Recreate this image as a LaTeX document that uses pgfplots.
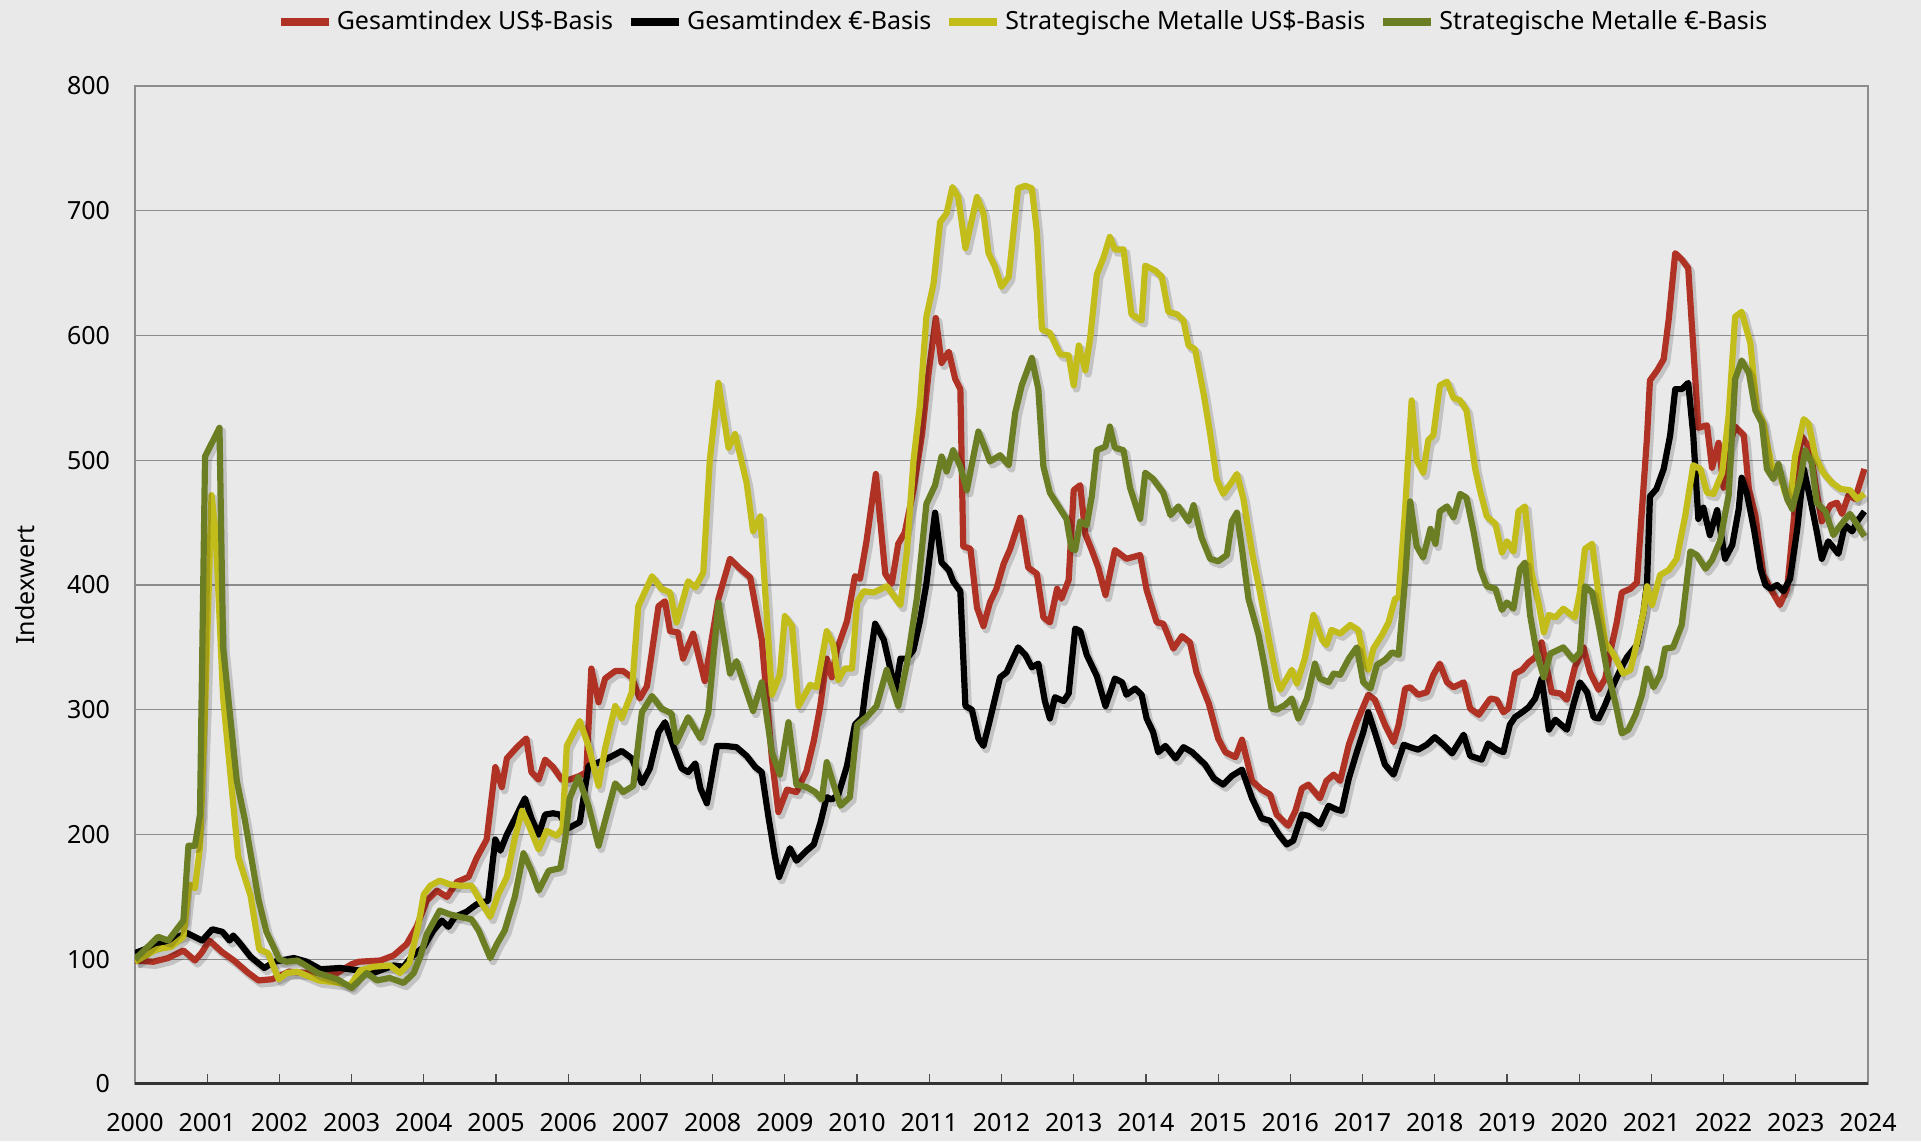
\documentclass[border=0pt]{standalone}
\usepackage{pgfplots}
\pgfplotsset{compat=1.18}
\usepackage{fontspec}
\setmainfont{Noto Sans}
\definecolor{bg}{HTML}{E9E9E9}
\definecolor{cRed}{HTML}{B03224}
\definecolor{cYel}{HTML}{C3BD1B}
\definecolor{cGrn}{HTML}{6C7E23}
\definecolor{gridc}{HTML}{8C8C8C}
\tikzset{shadow/.style={preaction={draw=black, draw opacity=0.16, line width=3.8pt, transform canvas={xshift=1.4pt,yshift=-1.7pt}}}}
\begin{document}
\begin{tikzpicture}
\fill[bg] (-67.5pt,-28.5pt) rectangle (893pt,542pt);
\begin{axis}[
  at={(0pt,0pt)}, anchor=south west,
  width=866.5pt, height=499pt, scale only axis,
  xmin=2000, xmax=2024, ymin=0, ymax=800,
  xtick={2000,2001,...,2024},
  ytick={0,100,...,800},
  /pgf/number format/.cd, 1000 sep={}, assume math mode=true, /pgfplots/.cd,
  tick label style={font=\fontsize{12.5}{15}\selectfont},
  xticklabel style={yshift=-11pt},
  yticklabel style={xshift=-9pt},
  ymajorgrids, major grid style={gridc, line width=0.7pt},
  axis line style={gridc, line width=0.8pt},
  tick align=inside, xtick pos=lower,
  major tick length=5pt,
  x tick style={black!70, line width=0.6pt},
  ytick style={draw=none},
  ylabel={Indexwert},
  ylabel style={font=\fontsize{12.5}{15}\selectfont, at={(axis description cs:-0.0635,0.5)}, anchor=center},
  legend style={draw=none, fill=none, at={(axis description cs:0.513,1)}, anchor=center, yshift=32pt,
    legend columns=4, font=\fontsize{12.5}{15}\selectfont, inner sep=0pt,
    /tikz/every even column/.append style={column sep=5pt}, cells={anchor=west}},
  legend image code/.code={\draw[#1] (0pt,0pt) -- (24pt,0pt);},
]
\addlegendimage{cRed, line width=4pt}\addlegendentry{Gesamtindex US\$-Basis}
\addlegendimage{black, line width=4pt}\addlegendentry{Gesamtindex €-Basis}
\addlegendimage{cYel, line width=4pt}\addlegendentry{Strategische Metalle US\$-Basis}
\addlegendimage{cGrn, line width=4pt}\addlegendentry{Strategische Metalle €-Basis}

% Gesamtindex US$-Basis
\addplot[cRed, line width=3.1pt, line join=round, forget plot, shadow] coordinates {
(2000.0,99) (2000.25,98) (2000.46,101) (2000.67,107) (2000.83,99) (2000.92,105) (2001.03,115) (2001.2,106) (2001.37,99) (2001.57,89) (2001.71,83) (2001.9,84) (2002.13,90) (2002.4,89) (2002.8,89) (2003.0,96) (2003.1,98) (2003.4,99) (2003.58,103) (2003.76,112) (2003.9,126) (2004.04,147) (2004.18,155) (2004.32,150) (2004.46,162) (2004.62,166) (2004.73,181) (2004.87,196) (2004.99,254) (2005.08,238) (2005.15,261) (2005.29,270) (2005.42,277) (2005.49,250) (2005.59,244) (2005.68,260) (2005.79,254) (2005.91,244) (2006.02,244) (2006.16,247) (2006.25,250) (2006.32,333) (2006.42,306) (2006.51,325) (2006.65,331) (2006.76,331) (2006.88,326) (2006.99,309) (2007.09,319) (2007.25,383) (2007.34,387) (2007.41,363) (2007.52,362) (2007.59,341) (2007.73,361) (2007.89,323) (2008.08,389) (2008.24,421) (2008.38,413) (2008.52,406) (2008.68,356) (2008.82,261) (2008.91,218) (2009.03,236) (2009.16,234) (2009.3,251) (2009.4,275) (2009.49,303) (2009.58,341) (2009.65,326) (2009.72,348) (2009.86,371) (2009.97,407) (2010.04,405) (2010.13,435) (2010.26,489) (2010.39,409) (2010.48,401) (2010.57,433) (2010.66,442) (2010.78,476) (2010.9,521) (2010.99,570) (2011.09,614) (2011.17,578) (2011.27,587) (2011.36,565) (2011.43,557) (2011.47,431) (2011.57,429) (2011.66,382) (2011.75,367) (2011.84,386) (2011.93,397) (2012.03,417) (2012.12,429) (2012.26,454) (2012.37,414) (2012.49,409) (2012.58,374) (2012.67,370) (2012.77,397) (2012.83,389) (2012.93,404) (2013.0,476) (2013.09,480) (2013.16,441) (2013.25,428) (2013.34,414) (2013.44,392) (2013.57,428) (2013.73,421) (2013.92,424) (2014.01,396) (2014.15,370) (2014.24,369) (2014.38,349) (2014.5,359) (2014.61,354) (2014.7,330) (2014.87,305) (2015.0,277) (2015.1,266) (2015.24,262) (2015.33,276) (2015.47,243) (2015.6,236) (2015.72,232) (2015.81,216) (2015.97,207) (2016.07,219) (2016.16,237) (2016.25,240) (2016.41,229) (2016.5,243) (2016.6,248) (2016.69,243) (2016.81,272) (2016.92,290) (2017.08,312) (2017.17,308) (2017.31,288) (2017.43,274) (2017.5,288) (2017.59,317) (2017.66,318) (2017.77,312) (2017.89,314) (2017.98,328) (2018.07,337) (2018.17,322) (2018.26,318) (2018.4,322) (2018.49,301) (2018.61,296) (2018.77,309) (2018.86,308) (2018.95,298) (2019.02,301) (2019.11,329) (2019.21,332) (2019.3,338) (2019.39,342) (2019.48,354) (2019.62,314) (2019.74,313) (2019.83,308) (2019.94,334) (2020.06,350) (2020.15,330) (2020.27,316) (2020.36,325) (2020.43,346) (2020.52,370) (2020.59,394) (2020.71,397) (2020.8,402) (2020.87,461) (2020.94,519) (2020.98,564) (2021.08,572) (2021.17,581) (2021.24,613) (2021.33,666) (2021.42,661) (2021.51,654) (2021.58,591) (2021.65,526) (2021.77,528) (2021.84,494) (2021.93,514) (2022.0,478) (2022.07,510) (2022.16,527) (2022.28,520) (2022.35,477) (2022.44,456) (2022.55,408) (2022.67,395) (2022.78,384) (2022.88,397) (2022.97,451) (2023.07,520) (2023.2,509) (2023.29,474) (2023.36,451) (2023.48,464) (2023.57,466) (2023.64,457) (2023.73,472) (2023.82,469) (2023.95,493)
};
% Gesamtindex EUR-Basis
\addplot[black, line width=3.1pt, line join=round, forget plot, shadow] coordinates {
(2000.0,105) (2000.32,112) (2000.72,121) (2000.93,115) (2001.07,124) (2001.21,122) (2001.31,115) (2001.36,119) (2001.45,113) (2001.6,102) (2001.79,93) (2001.93,98) (2002.2,101) (2002.38,98) (2002.57,92) (2002.84,93) (2003.1,91) (2003.3,89) (2003.58,95) (2003.72,94) (2003.83,102) (2004.0,110) (2004.13,123) (2004.25,131) (2004.34,126) (2004.43,134) (2004.59,138) (2004.73,144) (2004.89,147) (2004.99,196) (2005.06,187) (2005.15,200) (2005.29,216) (2005.4,229) (2005.49,213) (2005.59,200) (2005.68,216) (2005.79,217) (2005.88,216) (2006.0,205) (2006.16,210) (2006.28,255) (2006.39,257) (2006.58,262) (2006.74,267) (2006.88,261) (2007.02,241) (2007.13,253) (2007.25,282) (2007.34,290) (2007.46,270) (2007.57,253) (2007.66,250) (2007.76,257) (2007.83,237) (2007.92,225) (2008.06,271) (2008.17,271) (2008.33,270) (2008.47,263) (2008.59,254) (2008.68,250) (2008.77,215) (2008.86,183) (2008.92,166) (2009.07,189) (2009.16,179) (2009.3,187) (2009.4,192) (2009.49,209) (2009.58,230) (2009.65,228) (2009.74,232) (2009.86,255) (2009.97,288) (2010.07,294) (2010.13,322) (2010.25,369) (2010.37,356) (2010.46,333) (2010.53,315) (2010.6,341) (2010.69,341) (2010.78,348) (2010.87,371) (2010.96,401) (2011.08,458) (2011.17,418) (2011.27,412) (2011.33,403) (2011.43,395) (2011.5,303) (2011.59,300) (2011.68,277) (2011.75,271) (2011.84,292) (2011.98,326) (2012.07,330) (2012.23,350) (2012.33,344) (2012.42,334) (2012.51,337) (2012.6,307) (2012.67,293) (2012.74,310) (2012.86,307) (2012.93,313) (2013.02,365) (2013.09,363) (2013.18,344) (2013.32,327) (2013.44,303) (2013.57,325) (2013.67,322) (2013.73,312) (2013.85,317) (2013.94,312) (2014.01,293) (2014.1,282) (2014.17,266) (2014.27,271) (2014.41,261) (2014.52,270) (2014.64,266) (2014.82,256) (2014.94,245) (2015.07,240) (2015.19,247) (2015.33,252) (2015.47,229) (2015.6,213) (2015.72,211) (2015.84,200) (2015.95,192) (2016.04,195) (2016.16,216) (2016.25,215) (2016.41,208) (2016.53,223) (2016.64,220) (2016.71,219) (2016.81,245) (2016.92,266) (2017.01,282) (2017.08,298) (2017.17,282) (2017.31,256) (2017.43,248) (2017.57,272) (2017.66,270) (2017.77,268) (2017.89,272) (2018.0,278) (2018.12,272) (2018.24,265) (2018.4,280) (2018.49,263) (2018.65,260) (2018.74,273) (2018.86,268) (2018.95,266) (2019.04,288) (2019.11,294) (2019.21,298) (2019.3,302) (2019.39,309) (2019.48,325) (2019.58,284) (2019.67,292) (2019.83,284) (2019.92,304) (2020.01,322) (2020.11,314) (2020.2,294) (2020.27,293) (2020.36,304) (2020.45,317) (2020.57,332) (2020.66,342) (2020.8,352) (2020.89,378) (2020.94,402) (2020.98,471) (2021.07,477) (2021.17,493) (2021.26,520) (2021.33,557) (2021.42,557) (2021.51,562) (2021.58,520) (2021.65,453) (2021.72,462) (2021.81,440) (2021.91,460) (2022.02,421) (2022.12,432) (2022.21,461) (2022.25,486) (2022.32,474) (2022.42,445) (2022.51,413) (2022.58,400) (2022.65,397) (2022.74,400) (2022.83,395) (2022.92,405) (2023.02,445) (2023.11,493) (2023.2,469) (2023.29,443) (2023.36,421) (2023.45,435) (2023.59,425) (2023.68,448) (2023.78,443) (2023.85,451) (2023.95,459)
};
% Strategische Metalle US$-Basis
\addplot[cYel, line width=3.1pt, line join=round, forget plot, shadow] coordinates {
(2000.0,98) (2000.3,108) (2000.5,110) (2000.67,118) (2000.75,160) (2000.83,157) (2000.9,190) (2000.97,300) (2001.06,472) (2001.12,440) (2001.22,310) (2001.43,182) (2001.6,151) (2001.72,108) (2001.84,105) (2001.99,84) (2002.1,89) (2002.25,90) (2002.55,83) (2002.84,81) (2002.98,79) (2003.12,91) (2003.3,94) (2003.53,95) (2003.67,89) (2003.8,97) (2003.92,126) (2004.0,152) (2004.09,159) (2004.22,163) (2004.36,160) (2004.5,159) (2004.66,159) (2004.78,147) (2004.92,134) (2005.03,152) (2005.15,166) (2005.26,197) (2005.36,219) (2005.45,208) (2005.59,188) (2005.7,203) (2005.84,199) (2005.92,205) (2005.98,271) (2006.06,280) (2006.16,291) (2006.28,271) (2006.42,239) (2006.51,269) (2006.65,303) (2006.74,293) (2006.88,314) (2006.97,383) (2007.16,407) (2007.29,397) (2007.41,394) (2007.5,370) (2007.66,403) (2007.76,398) (2007.87,410) (2007.96,500) (2008.08,562) (2008.22,510) (2008.31,521) (2008.47,482) (2008.56,443) (2008.66,455) (2008.82,312) (2008.93,328) (2009.0,375) (2009.1,367) (2009.19,303) (2009.35,320) (2009.44,318) (2009.58,363) (2009.67,352) (2009.74,324) (2009.83,333) (2009.93,333) (2010.0,386) (2010.09,395) (2010.23,394) (2010.41,399) (2010.5,392) (2010.6,384) (2010.69,427) (2010.78,499) (2010.87,544) (2010.96,615) (2011.06,642) (2011.15,691) (2011.24,698) (2011.32,719) (2011.4,711) (2011.5,670) (2011.66,711) (2011.75,698) (2011.82,666) (2011.91,655) (2012.0,639) (2012.1,647) (2012.23,718) (2012.33,720) (2012.42,718) (2012.49,683) (2012.56,605) (2012.67,602) (2012.81,585) (2012.93,584) (2013.0,560) (2013.07,592) (2013.16,572) (2013.23,599) (2013.32,649) (2013.41,662) (2013.5,679) (2013.57,669) (2013.69,669) (2013.8,617) (2013.94,612) (2013.99,656) (2014.13,652) (2014.22,647) (2014.31,619) (2014.43,617) (2014.52,612) (2014.59,592) (2014.68,589) (2014.8,553) (2014.89,521) (2014.98,485) (2015.07,473) (2015.17,481) (2015.26,489) (2015.35,469) (2015.47,426) (2015.58,394) (2015.7,357) (2015.81,325) (2015.86,316) (2016.02,332) (2016.09,321) (2016.2,341) (2016.32,376) (2016.44,356) (2016.5,352) (2016.57,364) (2016.69,361) (2016.83,368) (2016.94,364) (2017.04,336) (2017.08,332) (2017.15,349) (2017.27,360) (2017.36,370) (2017.45,389) (2017.5,390) (2017.59,461) (2017.68,548) (2017.75,500) (2017.84,490) (2017.91,516) (2017.98,520) (2018.07,560) (2018.17,563) (2018.26,550) (2018.35,548) (2018.44,540) (2018.56,493) (2018.63,475) (2018.72,455) (2018.84,449) (2018.93,426) (2019.0,435) (2019.09,427) (2019.16,459) (2019.25,463) (2019.34,410) (2019.44,385) (2019.51,362) (2019.58,376) (2019.67,374) (2019.78,381) (2019.94,374) (2020.01,394) (2020.08,429) (2020.18,433) (2020.27,391) (2020.36,354) (2020.48,344) (2020.61,329) (2020.71,332) (2020.8,354) (2020.89,378) (2020.94,399) (2021.01,384) (2021.12,408) (2021.24,412) (2021.35,421) (2021.47,456) (2021.58,496) (2021.68,493) (2021.77,474) (2021.86,473) (2021.98,490) (2022.07,536) (2022.16,615) (2022.25,619) (2022.37,594) (2022.46,541) (2022.55,530) (2022.6,514) (2022.69,490) (2022.76,493) (2022.85,474) (2022.92,466) (2022.99,503) (2023.11,533) (2023.18,529) (2023.27,503) (2023.38,490) (2023.5,482) (2023.62,477) (2023.75,476) (2023.85,469) (2023.95,473)
};
% Strategische Metalle EUR-Basis
\addplot[cGrn, line width=3.1pt, line join=round, forget plot, shadow] coordinates {
(2000.0,100) (2000.32,118) (2000.46,115) (2000.67,131) (2000.74,191) (2000.83,191) (2000.9,216) (2000.97,503) (2001.17,526) (2001.22,350) (2001.41,243) (2001.52,212) (2001.71,148) (2001.82,122) (2002.0,100) (2002.1,98) (2002.25,99) (2002.53,89) (2002.8,84) (2003.0,77) (2003.21,89) (2003.35,83) (2003.53,85) (2003.72,81) (2003.86,89) (2003.95,102) (2004.04,120) (2004.22,139) (2004.36,136) (2004.5,134) (2004.66,132) (2004.76,123) (2004.92,101) (2005.01,112) (2005.12,123) (2005.26,150) (2005.38,185) (2005.49,171) (2005.59,155) (2005.73,171) (2005.89,173) (2005.96,197) (2006.02,229) (2006.14,246) (2006.28,223) (2006.42,191) (2006.51,211) (2006.65,241) (2006.76,234) (2006.9,239) (2007.02,298) (2007.16,311) (2007.29,301) (2007.43,297) (2007.5,274) (2007.66,294) (2007.83,277) (2007.94,298) (2008.08,386) (2008.24,329) (2008.33,339) (2008.45,318) (2008.56,299) (2008.68,322) (2008.82,266) (2008.93,248) (2009.05,290) (2009.16,240) (2009.3,238) (2009.42,234) (2009.51,228) (2009.58,258) (2009.67,241) (2009.77,223) (2009.9,230) (2010.0,288) (2010.13,294) (2010.27,303) (2010.41,332) (2010.57,303) (2010.69,337) (2010.83,390) (2010.96,465) (2011.08,480) (2011.17,503) (2011.24,491) (2011.33,508) (2011.43,495) (2011.52,476) (2011.59,497) (2011.68,523) (2011.77,510) (2011.84,499) (2011.98,504) (2012.1,496) (2012.19,538) (2012.28,560) (2012.42,582) (2012.51,557) (2012.58,495) (2012.67,474) (2012.79,463) (2012.9,453) (2012.97,429) (2013.02,428) (2013.09,451) (2013.18,448) (2013.25,471) (2013.32,508) (2013.44,511) (2013.5,527) (2013.57,510) (2013.69,508) (2013.78,478) (2013.92,453) (2013.99,490) (2014.1,485) (2014.24,474) (2014.34,456) (2014.45,463) (2014.59,451) (2014.66,464) (2014.77,438) (2014.89,421) (2015.0,419) (2015.12,424) (2015.19,451) (2015.26,458) (2015.33,429) (2015.42,389) (2015.56,360) (2015.65,333) (2015.74,301) (2015.81,300) (2015.93,304) (2016.02,309) (2016.11,293) (2016.23,309) (2016.34,337) (2016.41,325) (2016.53,322) (2016.6,329) (2016.69,328) (2016.81,341) (2016.92,350) (2017.01,322) (2017.11,317) (2017.2,336) (2017.31,340) (2017.41,346) (2017.5,344) (2017.59,405) (2017.66,467) (2017.75,431) (2017.84,422) (2017.94,445) (2018.01,433) (2018.07,459) (2018.17,463) (2018.26,454) (2018.35,473) (2018.44,470) (2018.54,442) (2018.63,413) (2018.72,399) (2018.84,397) (2018.93,380) (2019.0,386) (2019.09,381) (2019.18,413) (2019.25,418) (2019.32,376) (2019.41,346) (2019.51,326) (2019.6,345) (2019.78,350) (2019.92,340) (2020.01,346) (2020.08,399) (2020.18,394) (2020.27,368) (2020.38,333) (2020.5,306) (2020.59,281) (2020.68,284) (2020.78,296) (2020.87,312) (2020.94,333) (2021.03,318) (2021.12,328) (2021.19,349) (2021.3,350) (2021.42,368) (2021.54,427) (2021.63,424) (2021.75,413) (2021.84,420) (2021.95,435) (2022.07,472) (2022.16,565) (2022.25,580) (2022.35,570) (2022.44,540) (2022.53,530) (2022.6,493) (2022.69,485) (2022.76,497) (2022.88,469) (2022.95,461) (2023.06,485) (2023.13,508) (2023.22,498) (2023.29,466) (2023.41,459) (2023.52,440) (2023.62,448) (2023.75,457) (2023.82,451) (2023.95,439)
};
\draw[black!80, line width=1.6pt] (rel axis cs:0,0) -- (rel axis cs:1,0);
\end{axis}
\end{tikzpicture}
\end{document}
